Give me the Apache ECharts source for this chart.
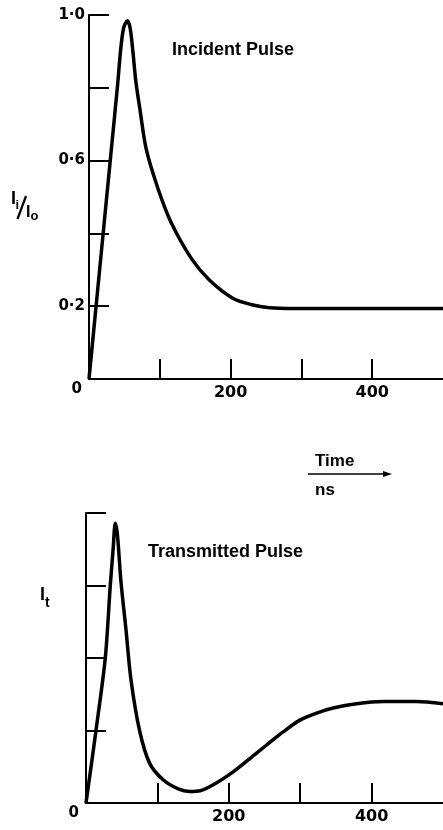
<!DOCTYPE html>
<html>
<head>
<meta charset="utf-8">
<script src="https://cdn.jsdelivr.net/npm/echarts@6/dist/echarts.min.js"></script>
<style>
html,body{margin:0;padding:0;background:#fff;}
#c{width:443px;height:830px;}
</style>
</head>
<body>
<div id="c"></div>
<script>
// Time axis (ns)
const timeMin = 0, timeMax = 500, timeStep = 100;
const timeLabels = [200, 400];

// Incident pulse  I_i / I_0
const incidentT = [0, 10, 20, 30, 40, 45, 49, 54, 58, 62, 66, 72, 81, 98, 116, 145, 170, 203, 230, 255, 290, 350, 500];
const incidentV = [0, 0.2, 0.4, 0.6, 0.8, 0.91, 0.965, 0.984, 0.965, 0.90, 0.82, 0.74, 0.63, 0.52, 0.43, 0.33, 0.272, 0.222, 0.204, 0.196, 0.194, 0.194, 0.194];
const incidentYLabels = [0.2, 0.6, 1.0];

// Transmitted pulse  I_t (arbitrary units)
const transT = [0, 14, 27, 34, 38, 41, 44, 49, 56, 63, 75, 89, 108, 130, 145, 160, 183, 206, 229, 253, 276, 299, 323, 346, 379, 416, 463, 500];
const transV = [0, 1.0, 2.0, 3.0, 3.5, 3.86, 3.7, 3.05, 2.39, 1.70, 1.0, 0.55, 0.32, 0.19, 0.16, 0.17, 0.28, 0.43, 0.61, 0.80, 0.98, 1.14, 1.24, 1.31, 1.37, 1.40, 1.40, 1.37];

const digitFont = 'DejaVu Sans';

function pairs(t, v) { return t.map((x, i) => [x, v[i]]); }
function dot(v) { return v.toFixed(1).replace('.', '\u00B7'); }

const axisLine = { show: true, onZero: false, lineStyle: { color: '#000', width: 2 } };
const axisTick = { show: true, inside: true, length: 20, lineStyle: { color: '#000', width: 2 } };
const zeroRich = { z: { fontFamily: digitFont, fontWeight: 'bold', fontSize: 15, color: '#000', padding: [20, 3, 0, 0] } };

const chart = echarts.init(document.getElementById('c'), null, { renderer: 'canvas' });
chart.setOption({
  animation: false,
  backgroundColor: '#fff',
  grid: [
    { left: 89, top: 15, width: 355, height: 364 },
    { left: 86, top: 513, width: 357, height: 290 }
  ],
  xAxis: [0, 1].map(i => ({
    type: 'value', gridIndex: i, min: timeMin, max: timeMax, interval: timeStep,
    axisLine, axisTick, splitLine: { show: false },
    axisLabel: {
      margin: 6, color: '#000', fontFamily: digitFont, fontWeight: 'bold', fontSize: 16,
      showMaxLabel: false,
      formatter: v => timeLabels.includes(Math.round(v)) ? String(Math.round(v)) : ''
    }
  })),
  yAxis: [
    {
      type: 'value', gridIndex: 0, min: 0, max: 1, interval: 0.2,
      axisLine, axisTick, splitLine: { show: false },
      axisLabel: {
        margin: 4, color: '#000', fontFamily: digitFont, fontWeight: 'bold', fontSize: 15,
        rich: zeroRich,
        formatter: v => {
          const r = Math.round(v * 10) / 10;
          if (r === 0) return '{z|0}';
          return incidentYLabels.includes(r) ? dot(r) : '';
        }
      }
    },
    {
      type: 'value', gridIndex: 1, min: 0, max: 4, interval: 1,
      axisLine, axisTick, splitLine: { show: false },
      axisLabel: {
        margin: 4, color: '#000', fontFamily: digitFont, fontWeight: 'bold', fontSize: 15,
        rich: zeroRich,
        formatter: v => (Math.round(v) === 0 ? '{z|0}' : '')
      }
    }
  ],
  series: [
    {
      type: 'line', xAxisIndex: 0, yAxisIndex: 0, data: pairs(incidentT, incidentV),
      smooth: 0.3, showSymbol: false,
      lineStyle: { color: '#000', width: 3.5 }
    },
    {
      type: 'line', xAxisIndex: 1, yAxisIndex: 1, data: pairs(transT, transV),
      smooth: 0.3, showSymbol: false,
      lineStyle: { color: '#000', width: 3.5 }
    }
  ],
  graphic: [
    { type: 'text', x: 172, y: 50, style: { text: 'Incident Pulse', font: 'bold 18px "Liberation Sans"', fill: '#000', verticalAlign: 'middle' } },
    { type: 'text', x: 148, y: 552, style: { text: 'Transmitted Pulse', font: 'bold 18px "Liberation Sans"', fill: '#000', verticalAlign: 'middle' } },
    { type: 'text', x: 315, y: 461, style: { text: 'Time', font: 'bold 17px "Liberation Sans"', fill: '#000', verticalAlign: 'middle' } },
    { type: 'text', x: 315, y: 490, style: { text: 'ns', font: 'bold 17px "Liberation Sans"', fill: '#000', verticalAlign: 'middle' } },
    { type: 'line', shape: { x1: 308, y1: 474, x2: 386, y2: 474 }, style: { stroke: '#000', lineWidth: 1.5 } },
    { type: 'polygon', shape: { points: [[383, 471], [392, 474], [383, 477]] }, style: { fill: '#000' } },
    // y title of incident pulse: I_i / I_o
    { type: 'text', x: 11, y: 199, style: { text: 'I', font: 'bold 18px "Liberation Sans"', fill: '#000', verticalAlign: 'middle' } },
    { type: 'text', x: 15.5, y: 205, style: { text: 'i', font: 'bold 13px "Liberation Sans"', fill: '#000', verticalAlign: 'middle' } },
    { type: 'line', shape: { x1: 17.5, y1: 219, x2: 26, y2: 196 }, style: { stroke: '#000', lineWidth: 2.2 } },
    { type: 'text', x: 26, y: 213, style: { text: 'I', font: 'bold 16px "Liberation Sans"', fill: '#000', verticalAlign: 'middle' } },
    { type: 'text', x: 30.5, y: 216, style: { text: 'o', font: 'bold 13px "Liberation Sans"', fill: '#000', verticalAlign: 'middle' } },
    // y title of transmitted pulse: I_t
    { type: 'text', x: 40, y: 595, style: { text: 'I', font: 'bold 18px "Liberation Sans"', fill: '#000', verticalAlign: 'middle' } },
    { type: 'text', x: 45, y: 603, style: { text: 't', font: 'bold 14px "Liberation Sans"', fill: '#000', verticalAlign: 'middle' } }
  ]
});
</script>
</body>
</html>
